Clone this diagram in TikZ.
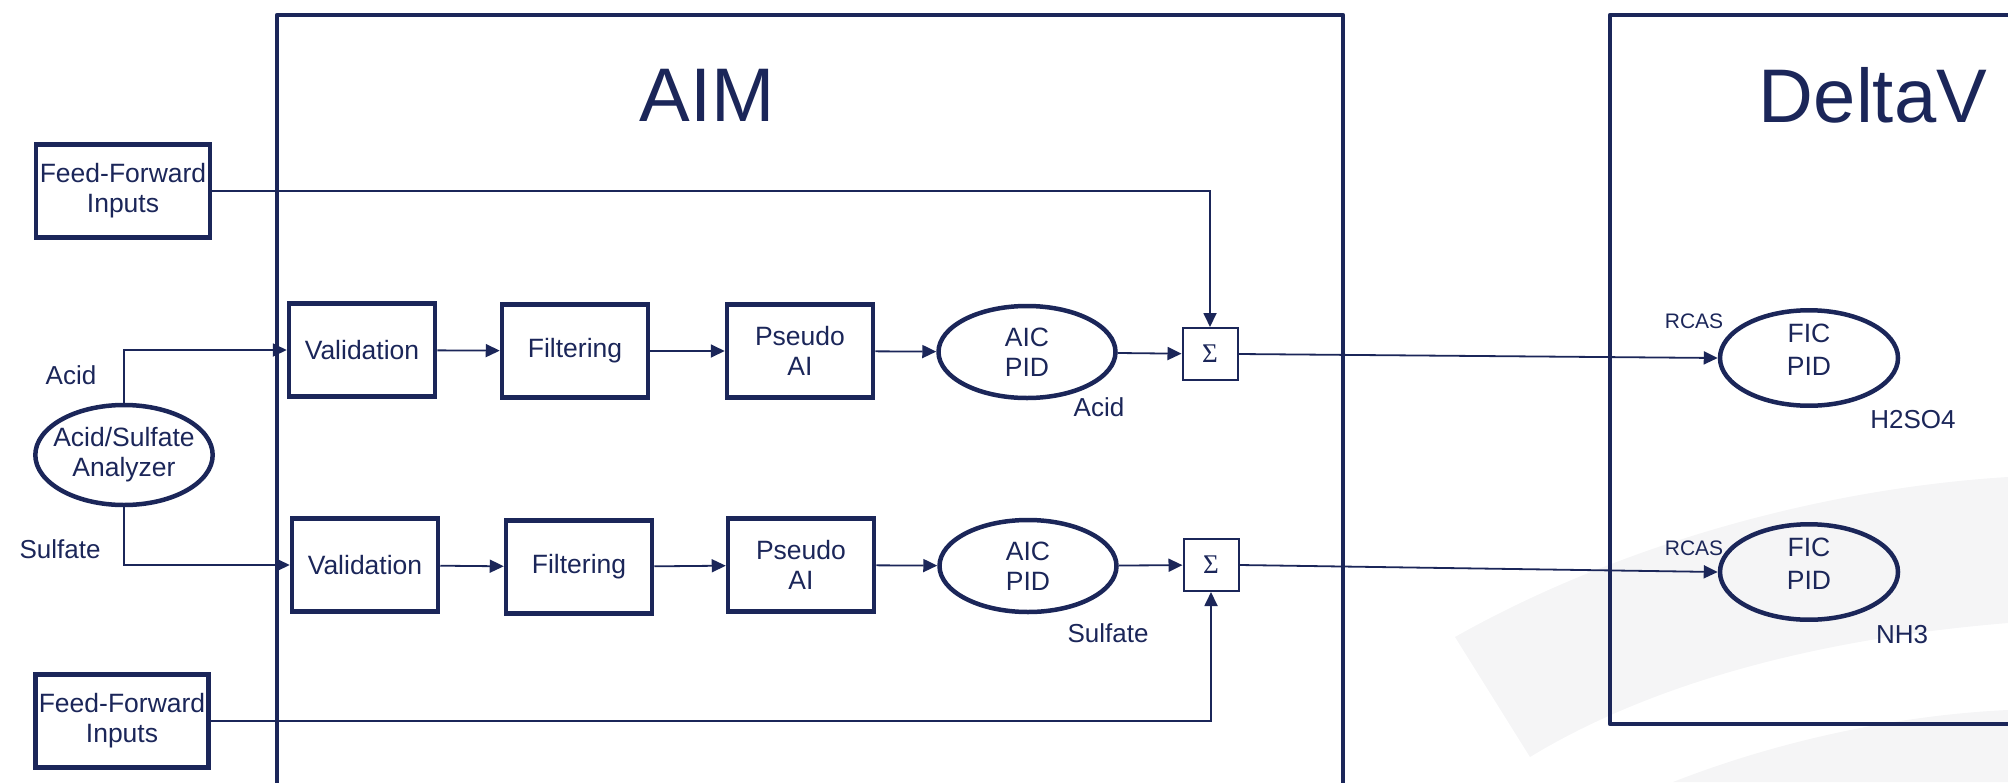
\documentclass[tikz,border=0pt]{standalone}
\usepackage{fontspec}
\setmainfont{Liberation Sans}
\newfontfamily\sigmafont{Liberation Serif}
\usetikzlibrary{shapes.geometric, arrows.meta, positioning}
\definecolor{navy}{RGB}{27,38,89}
\definecolor{swoosh}{RGB}{245,245,246}

\begin{document}
\begin{tikzpicture}[
  x=1pt, y=-1pt,
  blk/.style={rectangle,draw=navy,line width=4.5pt,minimum width=146pt,minimum height=93pt,align=center,text=navy,font=\fontsize{26.5}{30}\selectfont},
  oval/.style={ellipse,draw=navy,line width=4.5pt,inner sep=0pt,minimum width=177pt,minimum height=92pt,align=center,text=navy,font=\fontsize{26.5}{30}\selectfont},
  fic/.style={oval,minimum width=178pt,minimum height=80pt,text depth=16pt,font=\fontsize{26.5}{33}\selectfont},
  sumbox/.style={rectangle,draw=navy,line width=2pt,minimum width=55pt,minimum height=52pt,inner sep=0pt,text=navy,font=\sigmafont\fontsize{27}{30}\selectfont},
  frame/.style={draw=navy,line width=4.5pt,line join=round},
  title/.style={text=navy,font=\fontsize{76}{80}\selectfont},
  lbl/.style={text=navy,inner sep=0pt,font=\fontsize{26}{30}\selectfont},
  small/.style={text=navy,inner sep=0pt,font=\fontsize{21}{24}\selectfont},
  arr/.style={-{Triangle[length=14pt,width=13pt]},line width=1.8pt,navy}
]
  \useasboundingbox (0,0) rectangle (2008,782);
  % background swooshes
  \fill[swoosh] (1455,637) .. controls (1600,555) and (1800,490) .. (2008,477)
    -- (2008,623) .. controls (1800,640) and (1640,690) .. (1530,757) -- cycle;
  \fill[swoosh] (1673,782) .. controls (1780,740) and (1900,715) .. (2008,710)
    -- (2008,782) -- cycle;
  % frames
  \draw[frame] (277,800) -- (277,15) -- (1343,15) -- (1343,800);
  \draw[frame] (2020,15) -- (1610,15) -- (1610,724) -- (2020,724);
  \node[title] (aimt) at (707,95) {AIM};
  \node[title] (dvt)  at (1873,95) {DeltaV};

  \node[blk, minimum width=174pt] (ff1) at (123,191) {Feed-Forward\\Inputs};
  \node[blk, minimum width=171pt] (ff2) at (122,721) {Feed-Forward\\Inputs};
  \node[oval, inner xsep=-8pt, minimum height=100pt] (ana) at (124,455) {Acid/Sulfate\\Analyzer};

  \node[blk]  (val1)  at (362,350)  {Validation};
  \node[blk]  (filt1) at (575,351)  {Filtering};
  \node[blk]  (ps1)   at (800,351)  {Pseudo\\AI};
  \node[oval] (aic1)  at (1027,352) {AIC\\PID};
  \node[sumbox] (sum1) at (1210,354) {Σ};
  \node[fic]  (fic1)  at (1809,358) {FIC\\PID};

  \node[blk]  (val2)  at (365,565)  {Validation};
  \node[blk]  (filt2) at (579,567)  {Filtering};
  \node[blk]  (ps2)   at (801,565)  {Pseudo\\AI};
  \node[oval] (aic2)  at (1028,566) {AIC\\PID};
  \node[sumbox] (sum2) at (1211,565) {Σ};
  \node[fic]  (fic2)  at (1809,572) {FIC\\PID};

  \node[lbl] (acidin)  at (71,375)   {Acid};
  \node[lbl] (sulfin)  at (60,549)   {Sulfate};
  \node[lbl] (acidout) at (1099,407) {Acid};
  \node[lbl] (sulfout) at (1108,633) {Sulfate};
  \node[small] (rcas1) at (1694,321) {RCAS};
  \node[small] (rcas2) at (1694,548) {RCAS};
  \node[lbl] (h2so4) at (1913,420) {H2SO4};
  \node[lbl] (nh3)   at (1902,635) {NH3};

  \draw[arr] (ana.north) |- (val1.west);
  \draw[arr] (ana.south) |- (val2.west);
  \draw[arr] (val1) -- (filt1);
  \draw[arr] (filt1) -- (ps1);
  \draw[arr] (ps1) -- (aic1);
  \draw[arr] (aic1) -- (sum1);
  \draw[arr] (sum1.east) -- (fic1.west);
  \draw[arr] (val2) -- (filt2);
  \draw[arr] (filt2) -- (ps2);
  \draw[arr] (ps2) -- (aic2);
  \draw[arr] (aic2) -- (sum2);
  \draw[arr] (sum2.east) -- (fic2.west);
  \draw[arr] (ff1.east) -| (sum1.north);
  \draw[arr] (ff2.east) -| (sum2.south);
\end{tikzpicture}
\end{document}
